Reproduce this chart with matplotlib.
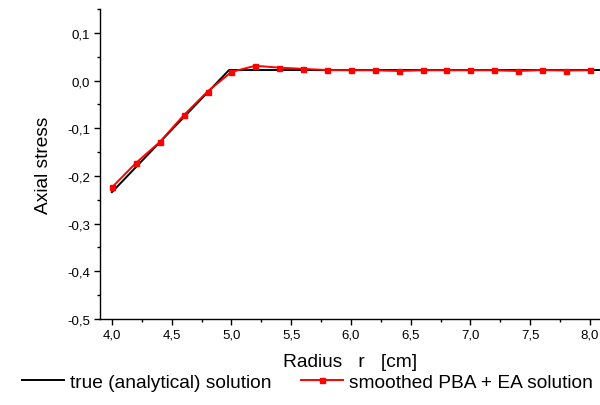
import matplotlib
matplotlib.use("Agg")
import matplotlib.pyplot as plt
from matplotlib.ticker import MultipleLocator, FuncFormatter

plt.rcParams['font.family'] = ['Liberation Sans', 'DejaVu Sans']

# true (analytical) solution
r_true = [4.0, 4.98, 8.1]
s_true = [-0.234, 0.022, 0.022]

# smoothed PBA + EA solution
r_pba = [4.0, 4.2, 4.4, 4.6, 4.8, 5.0, 5.2, 5.4, 5.6, 5.8, 6.0, 6.2, 6.4,
         6.6, 6.8, 7.0, 7.2, 7.4, 7.6, 7.8, 8.0]
s_pba = [-0.224, -0.173, -0.129, -0.073, -0.023, 0.018, 0.031, 0.027, 0.0245,
         0.022, 0.0216, 0.0216, 0.020, 0.0216, 0.0216, 0.0216, 0.0216, 0.020,
         0.022, 0.021, 0.0216]

xticks = [4.0, 4.5, 5.0, 5.5, 6.0, 6.5, 7.0, 7.5, 8.0]
yticks = [-0.5, -0.4, -0.3, -0.2, -0.1, 0.0, 0.1]

fig = plt.figure(figsize=(6.0, 4.06), dpi=100)
ax = fig.add_axes([100/600, 1-320/406, 500/600, 310/406])

l1, = ax.plot(r_true, s_true, color='black', lw=1.4, label='true (analytical) solution')
l2, = ax.plot(r_pba, s_pba, color='#ff0000', lw=1.4, marker='s', markersize=3.6,
              label='smoothed PBA + EA solution')

ax.set_xlim(3.9, 8.085)
ax.set_ylim(-0.5, 0.15)
ax.set_xticks(xticks)
ax.set_yticks(yticks)
ax.xaxis.set_minor_locator(MultipleLocator(0.25))
ax.yaxis.set_minor_locator(MultipleLocator(0.05))
fmt = FuncFormatter(lambda v, p: f"{v:.1f}".replace('.', ',').replace('-0,0', '0,0'))
ax.xaxis.set_major_formatter(fmt)
ax.yaxis.set_major_formatter(fmt)

for s in ['top', 'right']:
    ax.spines[s].set_visible(False)
for s in ['left', 'bottom']:
    ax.spines[s].set_linewidth(1.0)

ax.tick_params(which='major', direction='out', length=4.5, width=1.0, labelsize=9.5, pad=2.5)
ax.tick_params(which='minor', direction='out', length=2.5, width=1.0)

ax.set_xlabel('Radius   r   [cm]', fontsize=13.8, labelpad=9)
ax.set_ylabel('Axial stress', fontsize=13.8, labelpad=11)

fig.legend(handles=[l1, l2], loc='center', bbox_to_anchor=(307.5/600, 1-383/406), ncol=2,
           frameon=False, fontsize=13.8, handlelength=2.2, handletextpad=0.32,
           columnspacing=1.5, borderaxespad=0)

fig.savefig('out.png', dpi=100)
